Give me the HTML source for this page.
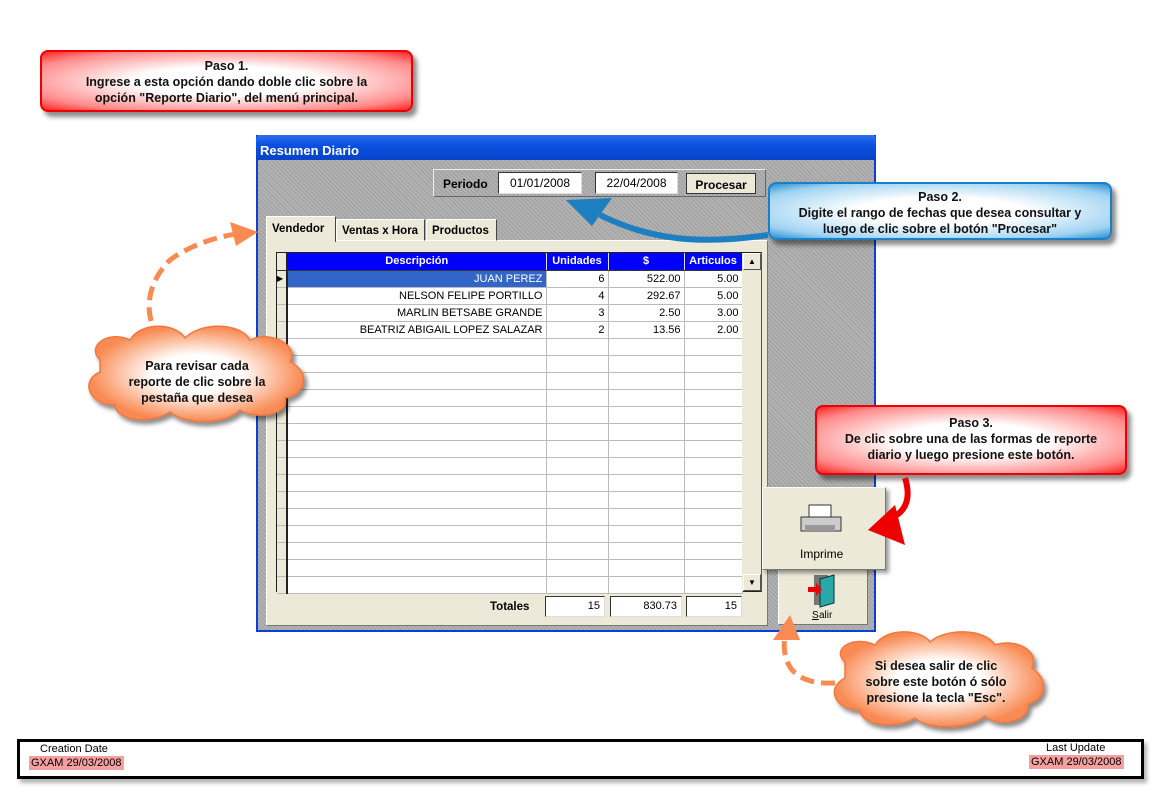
<!DOCTYPE html>
<html><head><meta charset="utf-8"><style>
*{box-sizing:border-box;margin:0;padding:0}
body{width:1160px;height:798px;background:#fff;position:relative;overflow:hidden;font-family:"Liberation Sans",sans-serif;font-size:12px}
.abs{position:absolute}
.callr{position:absolute;border-radius:8px;border:2px solid #e00;background:radial-gradient(ellipse at center,#fff 35%,#ff8a8a 80%,#f22 100%);box-shadow:4px 5px 5px rgba(0,0,0,.45);text-align:center;font-weight:bold;color:#111;font-size:12.5px;line-height:16px}
.callb{position:absolute;border-radius:8px;border:2px solid #1a7fc6;background:radial-gradient(ellipse at center,#fff 35%,#9fd3f2 80%,#2b8fd0 100%);box-shadow:4px 5px 5px rgba(0,0,0,.45);text-align:center;font-weight:bold;color:#111;font-size:12.5px;line-height:16px}
.win{left:256px;top:135px;width:620px;height:497px;border:2px solid #0a3fd8;border-top:none;background:#a9a9a9 repeating-linear-gradient(45deg,#b2b2b2 0 2px,#9e9e9e 2px 3px)}
.title{left:256px;top:135px;width:620px;height:25px;background:linear-gradient(#2e6ff0,#0a50e0 40%,#0843c8);color:#fff;font-weight:bold;font-size:13px;padding:8px 0 0 4px;border-radius:4px 4px 0 0}
.tb{position:absolute;background:#fff;border:1px solid #333;border-right-color:#ddd;border-bottom-color:#ddd;font-size:12px;padding-top:3px;text-align:center}
.grid td{border-right:1px solid #bbb;border-bottom:1px solid #bbb;height:17px;font-size:11px;text-align:right;padding-right:3px;background:#fff}
.grid{border-collapse:collapse;position:absolute;left:277px;top:253px;table-layout:fixed}
.grid th{background:#0000ff;color:#fff;font-size:11px;height:17px;border-right:1px solid #ddd;border-bottom:1px solid #333}
.grid td.ind{background:#ece9d8;border-right:2px solid #222;padding:0}
</style></head><body>

<div class="callr" style="left:40px;top:50px;width:373px;height:62px;padding-top:6px">Paso 1.<br>Ingrese a esta opción dando doble clic sobre la<br>opción "Reporte Diario", del menú principal.</div>

<div class="abs win"></div>
<div class="abs title">Resumen Diario</div>
<div class="abs" style="left:433px;top:169px;width:333px;height:28px;border:1px solid #eee;border-right-color:#666;border-bottom-color:#666"></div>
<div class="abs" style="left:443px;top:177px;font-weight:bold;font-size:12px">Periodo</div>
<div class="tb" style="left:498px;top:172px;width:84px;height:22px">01/01/2008</div>
<div class="tb" style="left:595px;top:172px;width:83px;height:22px">22/04/2008</div>
<div class="abs" style="left:686px;top:173px;width:70px;height:21px;background:#ece9d8;border:1px solid #333;font-weight:bold;text-align:center;padding-top:4px;font-size:12px">Procesar</div>

<div class="abs" style="left:266px;top:240px;width:502px;height:386px;background:#ece9d8;border:1px solid #fff;border-right-color:#777;border-bottom-color:#777"></div>
<div class="abs" style="left:266px;top:216px;width:70px;height:26px;background:#ece9d8;border:1px solid #fff;border-right:1px solid #444;border-bottom:none;font-weight:bold;font-size:11.5px;padding:6px 0 0 5px">Vendedor</div>
<div class="abs" style="left:336px;top:219px;width:89px;height:22px;background:#ece9d8;border:1px solid #fff;border-right:1px solid #444;font-weight:bold;font-size:11.5px;padding:5px 0 0 5px">Ventas x Hora</div>
<div class="abs" style="left:426px;top:219px;width:71px;height:22px;background:#ece9d8;border:1px solid #fff;border-right:1px solid #444;font-weight:bold;font-size:11.5px;padding:5px 0 0 5px">Productos</div>

<div class="abs" style="left:276px;top:252px;width:486px;height:340px;background:#fff;border:1px solid #222;border-right:1px solid #555"></div>
<table class="grid">
<colgroup><col style="width:10px"><col style="width:259px"><col style="width:62px"><col style="width:76px"><col style="width:58px"></colgroup>
<tr><th style="background:#ece9d8;border-right:2px solid #222"></th><th>Descripción</th><th>Unidades</th><th>$</th><th>Articulos</th></tr>
<tr><td class="ind" style="font-size:8px;text-align:left">▶</td><td style="background:#3166c8;color:#fff">JUAN PEREZ</td><td>6</td><td>522.00</td><td>5.00</td></tr>
<tr><td class="ind"></td><td>NELSON FELIPE PORTILLO</td><td>4</td><td>292.67</td><td>5.00</td></tr>
<tr><td class="ind"></td><td>MARLIN BETSABE GRANDE</td><td>3</td><td>2.50</td><td>3.00</td></tr>
<tr><td class="ind"></td><td>BEATRIZ ABIGAIL LOPEZ SALAZAR</td><td>2</td><td>13.56</td><td>2.00</td></tr>
<tr><td class="ind"></td><td></td><td></td><td></td><td></td></tr>
<tr><td class="ind"></td><td></td><td></td><td></td><td></td></tr>
<tr><td class="ind"></td><td></td><td></td><td></td><td></td></tr>
<tr><td class="ind"></td><td></td><td></td><td></td><td></td></tr>
<tr><td class="ind"></td><td></td><td></td><td></td><td></td></tr>
<tr><td class="ind"></td><td></td><td></td><td></td><td></td></tr>
<tr><td class="ind"></td><td></td><td></td><td></td><td></td></tr>
<tr><td class="ind"></td><td></td><td></td><td></td><td></td></tr>
<tr><td class="ind"></td><td></td><td></td><td></td><td></td></tr>
<tr><td class="ind"></td><td></td><td></td><td></td><td></td></tr>
<tr><td class="ind"></td><td></td><td></td><td></td><td></td></tr>
<tr><td class="ind"></td><td></td><td></td><td></td><td></td></tr>
<tr><td class="ind"></td><td></td><td></td><td></td><td></td></tr>
<tr><td class="ind"></td><td></td><td></td><td></td><td></td></tr>
<tr><td class="ind"></td><td></td><td></td><td></td><td></td></tr>
</table>
<div class="abs" style="left:742px;top:253px;width:19px;height:338px;background:#ece9d8"></div>
<div class="abs" style="left:743px;top:253px;width:18px;height:17px;border:1px solid #fff;border-right-color:#555;border-bottom-color:#555;font-size:8px;text-align:center;padding-top:3px">▲</div>
<div class="abs" style="left:743px;top:574px;width:18px;height:17px;border:1px solid #fff;border-right-color:#555;border-bottom-color:#555;font-size:8px;text-align:center;padding-top:3px">▼</div>

<div class="abs" style="left:490px;top:601px;font-weight:bold;font-size:11.5px">Totales</div>
<div class="tb" style="left:545px;top:596px;width:60px;height:21px;text-align:right;padding-right:4px;font-size:11px">15</div>
<div class="tb" style="left:610px;top:596px;width:72px;height:21px;text-align:right;padding-right:4px;font-size:11px">830.73</div>
<div class="tb" style="left:686px;top:596px;width:56px;height:21px;text-align:right;padding-right:4px;font-size:11px">15</div>

<div class="abs" style="left:778px;top:568px;width:90px;height:57px;background:#ece9d8;border:1px solid #fff;border-right-color:#777;border-bottom-color:#777"></div>
<svg class="abs" style="left:806px;top:573px" width="36" height="38"><rect x="8" y="2" width="14" height="30" fill="#777"/><polygon points="14,6 28,2 28,30 14,34" fill="#2aa7a7" stroke="#033" /><rect x="2" y="14" width="10" height="5" fill="#e00"/><polygon points="10,10 16,16.5 10,23" fill="#e00"/></svg>
<div class="abs" style="left:812px;top:610px;font-size:10px;text-decoration:underline">S</div><div class="abs" style="left:819px;top:610px;font-size:10px">alir</div>

<div class="abs" style="left:762px;top:487px;width:124px;height:83px;background:#ece9d8;border:1px solid #fff;border-right-color:#777;border-bottom-color:#777;box-shadow:3px 3px 4px rgba(0,0,0,.4)"></div>
<svg class="abs" style="left:799px;top:503px" width="48" height="34"><rect x="10" y="2" width="22" height="12" fill="#fff" stroke="#333"/><path d="M2 14h40v14H2z" fill="#ccc" stroke="#333"/><rect x="6" y="22" width="30" height="6" fill="#999"/></svg>
<div class="abs" style="left:800px;top:547px;font-size:12px">Imprime</div>

<div class="callb" style="left:768px;top:182px;width:344px;height:58px;padding-top:5px">Paso 2.<br>Digite el rango de fechas que desea consultar y<br>luego de clic sobre el botón "Procesar"</div>
<div class="callr" style="left:815px;top:405px;width:312px;height:70px;padding-top:8px">Paso 3.<br>De clic sobre una de las formas de reporte<br>diario y luego presione este botón.</div>

<svg class="abs" style="left:0;top:0" width="1160" height="798">
<defs>
<radialGradient id="og"><stop offset="40%" stop-color="#fff"/><stop offset="100%" stop-color="#f98a52"/></radialGradient>
<filter id="sh"><feDropShadow dx="3" dy="4" stdDeviation="2" flood-opacity=".45"/></filter>
</defs>
<path d="M768 235 C700 245 650 240 600 215" stroke="#1e7fc0" stroke-width="6" fill="none"/>
<polygon points="566,200 612,198 592,226" fill="#1e7fc0"/>
<path d="M905 478 C912 500 905 515 885 520" stroke="#e00" stroke-width="6" fill="none"/>
<polygon points="868,530 895,505 905,545" fill="#e00"/>
<path d="M160 340 C140 310 150 280 170 260 C190 245 220 235 245 233" stroke="#f98a52" stroke-width="5" stroke-dasharray="14 7" fill="none"/>
<polygon points="258,232 230,222 236,246" fill="#f98a52"/>
<path d="M835 683 C800 685 780 670 785 635" stroke="#f98a52" stroke-width="5" stroke-dasharray="14 7" fill="none"/>
<polygon points="790,615 773,640 800,640" fill="#f98a52"/>
<g filter="url(#sh)" fill="url(#og)" stroke="#f07840" stroke-width="1.5">
<path d="M100 360 C85 345 110 330 130 340 C140 322 175 322 185 338 C200 322 240 322 250 340 C270 330 300 345 290 362 C312 372 305 395 285 398 C290 415 255 420 240 410 C225 425 185 425 170 412 C150 425 115 420 115 405 C88 405 80 380 100 372 Z"/>
<path d="M845 662 C830 648 855 635 875 645 C885 628 920 628 930 642 C945 628 985 628 995 645 C1015 638 1040 650 1032 668 C1050 680 1045 700 1028 704 C1030 722 998 728 985 716 C968 730 928 730 915 718 C895 730 860 725 860 710 C835 710 825 688 845 678 Z"/>
</g>
<text font-family="Liberation Sans" font-weight="bold" font-size="12.5" text-anchor="middle" fill="#111"><tspan x="197" y="370">Para revisar cada</tspan><tspan x="197" y="386">reporte de clic sobre la</tspan><tspan x="197" y="402">pestaña que desea</tspan></text>
<text font-family="Liberation Sans" font-weight="bold" font-size="12.5" text-anchor="middle" fill="#111"><tspan x="936" y="670">Si desea salir de clic</tspan><tspan x="936" y="686">sobre este botón ó sólo</tspan><tspan x="936" y="702">presione la tecla "Esc".</tspan></text>
</svg>

<div class="abs" style="left:17px;top:739px;width:1127px;height:40px;border:3px solid #000;box-shadow:3px 4px 4px rgba(0,0,0,.3)"></div>
<div class="abs" style="left:40px;top:743px;font-size:11px">Creation Date</div>
<div class="abs" style="left:29px;top:756px;font-size:11px;background:#f4a0a0;padding:1px 2px">GXAM 29/03/2008</div>
<div class="abs" style="left:1046px;top:742px;font-size:11px">Last Update</div>
<div class="abs" style="left:1029px;top:755px;font-size:11px;background:#f4a0a0;padding:1px 2px">GXAM 29/03/2008</div>
</body></html>
